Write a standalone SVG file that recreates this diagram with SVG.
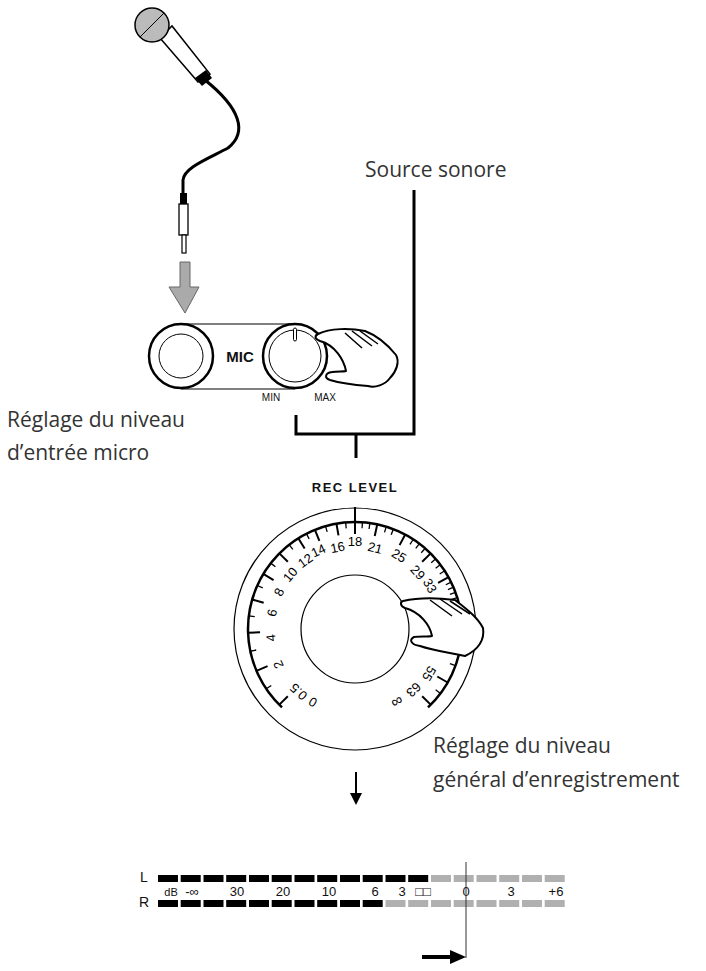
<svg xmlns="http://www.w3.org/2000/svg" width="706" height="971" viewBox="0 0 706 971">
<style>
.t{font-family:"Open Sans","Noto Sans",sans-serif;font-size:21px;fill:#333}
.s{font-family:"Liberation Sans",Arial,sans-serif;fill:#111}
.k{stroke:#000;fill:none}
.hand{fill:#fff;stroke:#000;stroke-width:2;stroke-linejoin:round}
.mj{stroke:#000;stroke-width:2}
.mn{stroke:#000;stroke-width:1.3}
.lb{font-family:"Liberation Sans",Arial,sans-serif;font-size:13px;text-anchor:middle;fill:#000}
.b{fill:#000}.g{fill:#b0b0b0}
</style>
<g id="mic">
<path d="M205,80 C240,108 248,132 228,148 C205,160 184,168 183,180 L183,195" class="k" stroke-width="3"/>
<path d="M160,38 L198,82 L210,74 L172,26 Z" fill="#fff" stroke="#000" stroke-width="1.5"/>
<path d="M195,78 L202,86 L212,78 L206,70 Z" fill="#000"/>
<circle cx="152" cy="25" r="17" fill="#bbb" stroke="#000" stroke-width="1.5"/>
<path d="M140,37 L164,13" stroke="#000" stroke-width="1"/>
<rect x="180" y="193" width="7" height="11" fill="#000"/>
<rect x="179" y="204" width="9" height="31" fill="#fff" stroke="#000" stroke-width="1.3"/>
<rect x="182" y="235" width="4" height="18" fill="#fff" stroke="#000" stroke-width="1.2"/>
</g>
<g id="grayarrow">
<path d="M180,262 L190,262 L190,287 L199,287 L185,313 L169,287 L180,287 Z" fill="#aaa" stroke="#666" stroke-width="1"/>
</g>
<g id="micpanel">
<line x1="181" y1="324" x2="295" y2="324" stroke="#000" stroke-width="1"/>
<line x1="181" y1="389" x2="295" y2="389" stroke="#000" stroke-width="1"/>
<circle cx="181" cy="356" r="32" fill="#fff" stroke="#000" stroke-width="2.5"/>
<circle cx="181" cy="356" r="22" fill="none" stroke="#000" stroke-width="1"/>
<circle cx="295" cy="356" r="32" fill="#fff" stroke="#000" stroke-width="2.5"/>
<circle cx="295" cy="356" r="26" fill="none" stroke="#000" stroke-width="1"/>
<rect x="293.5" y="328" width="3" height="13" rx="1.5" fill="#fff" stroke="#000" stroke-width="1"/>
<text x="240" y="362" class="s" font-size="15" text-anchor="middle" font-weight="bold">MIC</text>
<text x="271" y="401" class="s" font-size="10" text-anchor="middle">MIN</text>
<text x="325" y="401" class="s" font-size="10" text-anchor="middle">MAX</text>
<path class="hand" d="M318,334 C330,328 350,328 365,331 C378,336 388,345 396,355 C400,362 396,372 390,378 C385,385 375,388 368,386 C355,385 340,383 330,380 C324,378 325,373 332,372 C338,371 343,372 346,371 C344,360 335,345 320,341 C315,339 314,336 318,334 Z"/>
<path d="M345,333 L362,348 M352,331 L372,346 M360,331 L378,344" stroke="#000" stroke-width="1.5" fill="none"/>
</g>
<g id="labels">
<text x="365" y="177" class="t">Source sonore</text>
<text x="7" y="427" class="t">Réglage du niveau</text>
<text x="7" y="460" class="t">d’entrée micro</text>
<text x="433" y="753" class="t">Réglage du niveau</text>
<text x="433" y="787" class="t">général d’enregistrement</text>
</g>
<g id="connectors" stroke="#000" stroke-width="3" fill="none">
<path d="M414,190 L414,434 L296,434 L296,415"/>
<line x1="356" y1="434" x2="356" y2="458"/>
<line x1="356" y1="772" x2="356" y2="795" stroke-width="2"/>
<path d="M350,793 L362,793 L356,805 Z" fill="#000" stroke="none"/>
<line x1="422" y1="957" x2="452" y2="957" stroke-width="4"/>
<path d="M450,950 L466,957 L450,964 Z" fill="#000" stroke="none"/>
</g>
<g id="reclevel">
<text x="355" y="492" class="s" font-size="13" text-anchor="middle" letter-spacing="1.5" font-weight="bold">REC LEVEL</text>
<circle cx="355" cy="629" r="121" fill="#fff" stroke="#000" stroke-width="1.2"/>
<path d="M282.0,707.3 A107 107 0 1 1 428.0,707.3" fill="none" stroke="#000" stroke-width="2.5"/>
<line x1="355" y1="507" x2="355" y2="534" class="mj"/>
<g class="mj">
<line x1="355" y1="522" x2="355" y2="534" transform="rotate(-135 355 629)"/>
<line x1="355" y1="522" x2="355" y2="534" transform="rotate(-113 355 629)"/>
<line x1="355" y1="522" x2="355" y2="534" transform="rotate(-92 355 629)"/>
<line x1="355" y1="522" x2="355" y2="534" transform="rotate(-74 355 629)"/>
<line x1="355" y1="522" x2="355" y2="534" transform="rotate(-59 355 629)"/>
<line x1="355" y1="522" x2="355" y2="534" transform="rotate(-45 355 629)"/>
<line x1="355" y1="522" x2="355" y2="534" transform="rotate(-32 355 629)"/>
<line x1="355" y1="522" x2="355" y2="534" transform="rotate(-22 355 629)"/>
<line x1="355" y1="522" x2="355" y2="534" transform="rotate(-10 355 629)"/>
<line x1="355" y1="522" x2="355" y2="534" transform="rotate(12 355 629)"/>
<line x1="355" y1="522" x2="355" y2="534" transform="rotate(28 355 629)"/>
<line x1="355" y1="522" x2="355" y2="534" transform="rotate(45 355 629)"/>
<line x1="355" y1="522" x2="355" y2="534" transform="rotate(61 355 629)"/>
<line x1="355" y1="522" x2="355" y2="534" transform="rotate(120 355 629)"/>
<line x1="355" y1="522" x2="355" y2="534" transform="rotate(135 355 629)"/>
</g>
<g class="mn">
<line x1="355" y1="522" x2="355" y2="528" transform="rotate(-124 355 629)"/>
<line x1="355" y1="522" x2="355" y2="528" transform="rotate(-102 355 629)"/>
<line x1="355" y1="522" x2="355" y2="528" transform="rotate(-83 355 629)"/>
<line x1="355" y1="522" x2="355" y2="528" transform="rotate(-66 355 629)"/>
<line x1="355" y1="522" x2="355" y2="528" transform="rotate(-52 355 629)"/>
<line x1="355" y1="522" x2="355" y2="528" transform="rotate(-38 355 629)"/>
<line x1="355" y1="522" x2="355" y2="528" transform="rotate(-27 355 629)"/>
<line x1="355" y1="522" x2="355" y2="528" transform="rotate(-16 355 629)"/>
<line x1="355" y1="522" x2="355" y2="528" transform="rotate(-5 355 629)"/>
<line x1="355" y1="522" x2="355" y2="528" transform="rotate(4 355 629)"/>
<line x1="355" y1="522" x2="355" y2="528" transform="rotate(8 355 629)"/>
<line x1="355" y1="522" x2="355" y2="528" transform="rotate(17 355 629)"/>
<line x1="355" y1="522" x2="355" y2="528" transform="rotate(21 355 629)"/>
<line x1="355" y1="522" x2="355" y2="528" transform="rotate(33 355 629)"/>
<line x1="355" y1="522" x2="355" y2="528" transform="rotate(37 355 629)"/>
<line x1="355" y1="522" x2="355" y2="528" transform="rotate(41 355 629)"/>
<line x1="355" y1="522" x2="355" y2="528" transform="rotate(49 355 629)"/>
<line x1="355" y1="522" x2="355" y2="528" transform="rotate(53 355 629)"/>
<line x1="355" y1="522" x2="355" y2="528" transform="rotate(57 355 629)"/>
<line x1="355" y1="522" x2="355" y2="528" transform="rotate(64 355 629)"/>
<line x1="355" y1="522" x2="355" y2="528" transform="rotate(67 355 629)"/>
<line x1="355" y1="522" x2="355" y2="528" transform="rotate(70 355 629)"/>
<line x1="355" y1="522" x2="355" y2="528" transform="rotate(73 355 629)"/>
<line x1="355" y1="522" x2="355" y2="528" transform="rotate(76 355 629)"/>
<line x1="355" y1="522" x2="355" y2="528" transform="rotate(110 355 629)"/>
<line x1="355" y1="522" x2="355" y2="528" transform="rotate(127 355 629)"/>
</g>
<g class="lb">
<text x="355" y="549" transform="rotate(-150 355 629)">0</text>
<text x="355" y="549" transform="rotate(-138 355 629)">0.5</text>
<text x="355" y="549" transform="rotate(-115 355 629)">2</text>
<text x="355" y="549" transform="rotate(-96 355 629)">4</text>
<text x="355" y="549" transform="rotate(-79 355 629)">6</text>
<text x="355" y="549" transform="rotate(-64 355 629)">8</text>
<text x="355" y="549" transform="rotate(-50 355 629)">10</text>
<text x="355" y="549" transform="rotate(-36 355 629)">12</text>
<text x="355" y="547" transform="rotate(-25 355 629)">14</text>
<text x="355" y="550" transform="rotate(-12 355 629)">16</text>
<text x="355" y="546">18</text>
<text x="355" y="550" transform="rotate(14 355 629)">21</text>
<text x="355" y="548" transform="rotate(31 355 629)">25</text>
<text x="355" y="549" transform="rotate(48 355 629)">29</text>
<text x="355" y="547" transform="rotate(60 355 629)">33</text>
<text x="355" y="547" transform="rotate(121 355 629)">55</text>
<text x="355" y="549" transform="rotate(136 355 629)">63</text>
<text x="355" y="550" transform="rotate(150 355 629)" font-size="16">∞</text>
</g>
<circle cx="355" cy="629" r="54" fill="#fff" stroke="#000" stroke-width="1.2"/>
<path class="hand" d="M403,601 C420,597 440,598 455,600 C468,610 478,618 483,628 C485,640 478,650 465,656 L455,654 C445,652 432,650 420,646 C412,645 408,640 414,637 C420,636 428,637 432,636 C430,625 420,612 405,608 C400,606 400,602 403,601 Z"/>
<path d="M430,600 L452,616 M440,599 L462,614 M450,601 L470,614" stroke="#000" stroke-width="1.5" fill="none"/>
</g>
<g id="meter">
<text x="144" y="882" class="s" font-size="14" text-anchor="middle">L</text>
<text x="144" y="907" class="s" font-size="14" text-anchor="middle">R</text>
<g class="b">
<rect x="158" y="875" width="20" height="7"/><rect x="180.7" y="875" width="20" height="7"/><rect x="203.5" y="875" width="20" height="7"/><rect x="226.2" y="875" width="20" height="7"/><rect x="249" y="875" width="20" height="7"/><rect x="271.7" y="875" width="20" height="7"/><rect x="294.5" y="875" width="20" height="7"/><rect x="317.2" y="875" width="20" height="7"/><rect x="340" y="875" width="20" height="7"/><rect x="362.7" y="875" width="20" height="7"/><rect x="385.5" y="875" width="20" height="7"/><rect x="408.2" y="875" width="20" height="7"/>
<rect x="158" y="900" width="20" height="7"/><rect x="180.7" y="900" width="20" height="7"/><rect x="203.5" y="900" width="20" height="7"/><rect x="226.2" y="900" width="20" height="7"/><rect x="249" y="900" width="20" height="7"/><rect x="271.7" y="900" width="20" height="7"/><rect x="294.5" y="900" width="20" height="7"/><rect x="317.2" y="900" width="20" height="7"/><rect x="340" y="900" width="20" height="7"/><rect x="362.7" y="900" width="20" height="7"/>
</g>
<g class="g">
<rect x="431" y="875" width="20" height="7"/><rect x="453.7" y="875" width="20" height="7"/><rect x="476.5" y="875" width="20" height="7"/><rect x="499.2" y="875" width="20" height="7"/><rect x="522" y="875" width="20" height="7"/><rect x="544.7" y="875" width="20" height="7"/>
<rect x="385.5" y="900" width="20" height="7"/><rect x="408.2" y="900" width="20" height="7"/><rect x="431" y="900" width="20" height="7"/><rect x="453.7" y="900" width="20" height="7"/><rect x="476.5" y="900" width="20" height="7"/><rect x="499.2" y="900" width="20" height="7"/><rect x="522" y="900" width="20" height="7"/><rect x="544.7" y="900" width="20" height="7"/>
</g>
<g class="s" font-size="13" text-anchor="middle">
<text x="171" y="896" font-size="11">dB</text><text x="192" y="896">-∞</text>
<text x="237" y="896">30</text><text x="283" y="896">20</text><text x="329" y="896">10</text>
<text x="375" y="896">6</text><text x="402" y="896">3</text><text x="423" y="896">□□</text>
<text x="466" y="896">0</text><text x="511" y="896">3</text><text x="556" y="896">+6</text>
</g>
<line x1="466" y1="862" x2="466" y2="958" stroke="#333" stroke-width="1"/>
</g>
</svg>
